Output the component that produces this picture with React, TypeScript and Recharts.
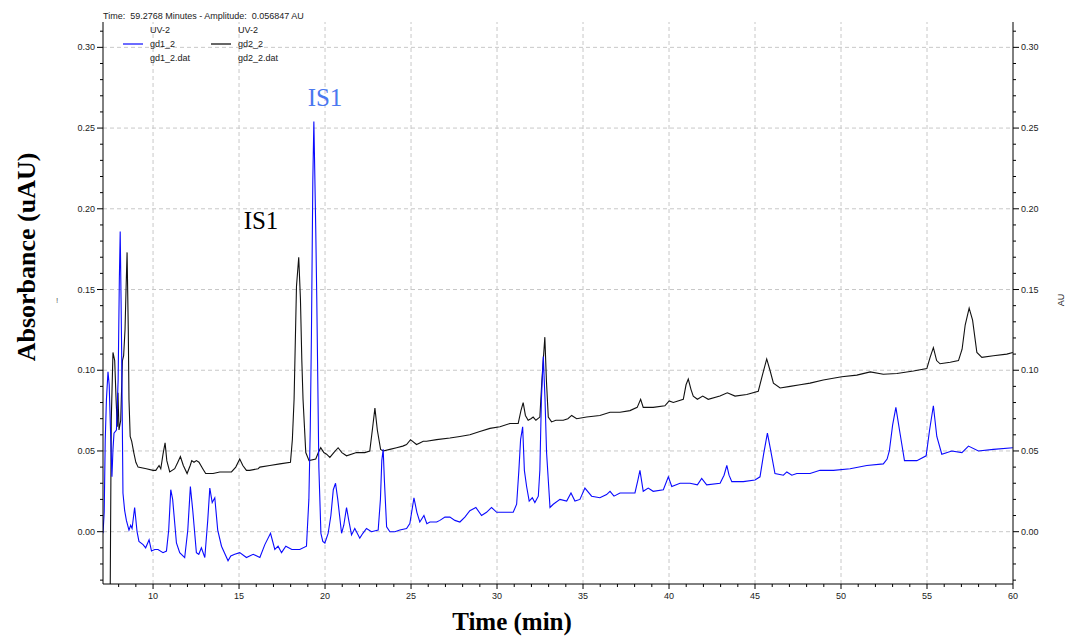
import React from 'react';
import { LineChart, Line, XAxis, YAxis, ReferenceLine } from 'recharts';

// gd1_2 (blue trace) — retention time (min) / absorbance (AU)
const gd1Time = [
  7.09, 7.16, 7.22, 7.29, 7.38, 7.45, 7.52, 7.61, 7.67, 7.73, 7.87, 7.97, 8.04, 8.09, 8.14, 8.18, 8.22, 8.25,
  8.35, 8.45, 8.6, 8.7, 8.78, 8.93, 9.07, 9.18, 9.42, 9.57, 9.77, 9.91, 10.1, 10.29, 10.58, 10.78, 10.91,
  11.03, 11.14, 11.36, 11.55, 11.84, 12.02, 12.17, 12.31, 12.52, 12.66, 12.81, 13.01, 13.18, 13.3, 13.44,
  13.59, 13.76, 13.98, 14.36, 14.52, 14.75, 15.04, 15.43, 15.82, 16.21, 16.5, 16.83, 17.08, 17.27, 17.47,
  17.72, 18.07, 18.53, 18.92, 19.06, 19.14, 19.21, 19.29, 19.35, 19.4, 19.46, 19.52, 19.64, 19.76, 19.87,
  19.99, 20.18, 20.34, 20.48, 20.61, 20.74, 20.96, 21.09, 21.25, 21.38, 21.54, 21.73, 22.02, 22.2, 22.41,
  22.7, 23.09, 23.22, 23.3, 23.38, 23.45, 23.58, 23.77, 24.06, 24.35, 24.74, 24.93, 25.17, 25.34, 25.51,
  25.75, 25.92, 26.1, 26.49, 26.68, 26.97, 27.26, 27.55, 27.84, 28.13, 28.42, 28.77, 29.1, 29.39, 29.68,
  29.98, 30.56, 30.94, 31.14, 31.27, 31.37, 31.49, 31.59, 31.72, 31.87, 32.05, 32.2, 32.4, 32.49, 32.58,
  32.69, 32.79, 32.88, 33.08, 33.27, 33.66, 34.05, 34.3, 34.53, 34.82, 35.11, 35.5, 35.98, 36.37, 36.57,
  36.8, 37.15, 37.61, 38.02, 38.19, 38.31, 38.5, 38.79, 39.08, 39.67, 39.96, 40.16, 40.64, 41.22, 41.65,
  41.9, 42.19, 42.97, 43.2, 43.36, 43.49, 43.65, 44.32, 45.0, 45.29, 45.5, 45.72, 45.9, 46.16, 46.65,
  46.85, 47.14, 47.43, 48.2, 48.78, 49.56, 50.53, 51.5, 52.46, 52.68, 52.81, 53.0, 53.19, 53.4, 53.69,
  54.02, 54.41, 54.95, 55.15, 55.37, 55.57, 55.86, 56.44, 57.03, 57.41, 57.99, 58.86, 59.99,
];
const gd1Abs = [
  -0.001, 0.012, 0.057, 0.082, 0.099, 0.091, 0.065, 0.034, 0.051, 0.061, 0.063, 0.094, 0.156, 0.186, 0.144,
  0.106, 0.059, 0.024, 0.013, 0.007, 0.001, 0.004, 0.002, 0.015, 0.0, -0.006, -0.008, -0.01, -0.005,
  -0.012, -0.011, -0.011, -0.013, -0.012, 0.001, 0.026, 0.02, -0.007, -0.013, -0.016, 0.001, 0.028, 0.013,
  -0.013, -0.014, -0.01, -0.016, 0.007, 0.027, 0.018, 0.021, 0.001, -0.009, -0.018, -0.015, -0.014,
  -0.013, -0.016, -0.014, -0.016, -0.008, -0.001, -0.011, -0.009, -0.013, -0.009, -0.011, -0.011, -0.009,
  0.02, 0.063, 0.123, 0.218, 0.254, 0.224, 0.187, 0.144, 0.04, -0.001, -0.006, -0.007, -0.001, 0.01, 0.026,
  0.03, 0.02, -0.001, 0.004, 0.015, 0.007, -0.002, 0.002, -0.004, -0.001, 0.002, 0.0, 0.001, 0.02, 0.044,
  0.051, 0.032, 0.003, 0.0, 0.0, 0.001, 0.002, 0.005, 0.021, 0.012, 0.006, 0.01, 0.005, 0.006, 0.006, 0.007,
  0.009, 0.009, 0.007, 0.006, 0.009, 0.013, 0.015, 0.01, 0.012, 0.015, 0.012, 0.012, 0.012, 0.017, 0.038,
  0.057, 0.065, 0.038, 0.028, 0.019, 0.021, 0.018, 0.022, 0.038, 0.082, 0.1085, 0.082, 0.049, 0.015, 0.017,
  0.02, 0.019, 0.024, 0.019, 0.02, 0.027, 0.022, 0.021, 0.023, 0.025, 0.022, 0.024, 0.024, 0.024, 0.032,
  0.038, 0.025, 0.027, 0.025, 0.026, 0.034, 0.028, 0.03, 0.03, 0.029, 0.033, 0.029, 0.03, 0.035, 0.041,
  0.035, 0.031, 0.031, 0.032, 0.034, 0.048, 0.061, 0.051, 0.036, 0.035, 0.037, 0.035, 0.036, 0.036, 0.038,
  0.038, 0.039, 0.041, 0.042, 0.045, 0.05, 0.066, 0.077, 0.063, 0.044, 0.044, 0.044, 0.047, 0.063, 0.078,
  0.059, 0.048, 0.05, 0.049, 0.053, 0.05, 0.051, 0.052,
];

// gd2_2 (black trace)
const gd2Time = [
  7.09, 7.51, 7.53, 7.57, 7.67, 7.77, 7.85, 7.92, 7.96, 8.02, 8.12, 8.22, 8.29, 8.37, 8.43, 8.49, 8.56, 8.6,
  8.67, 8.76, 8.88, 9.0, 9.13, 9.61, 10.0, 10.16, 10.35, 10.45, 10.58, 10.7, 10.8, 10.97, 11.26, 11.44,
  11.59, 11.76, 11.98, 12.16, 12.25, 12.38, 12.52, 12.67, 12.89, 13.06, 13.49, 13.88, 14.17, 14.56, 14.81,
  15.04, 15.22, 15.43, 15.62, 16.11, 16.21, 16.79, 17.37, 17.99, 18.1, 18.2, 18.34, 18.47, 18.57, 18.65,
  18.72, 18.88, 19.07, 19.46, 19.61, 19.75, 19.93, 20.09, 20.28, 20.51, 20.76, 20.98, 21.25, 21.83, 22.31,
  22.6, 22.75, 22.9, 23.04, 23.23, 23.38, 23.77, 24.16, 24.52, 24.74, 24.97, 25.32, 25.51, 25.71, 25.9,
  26.49, 27.26, 27.84, 28.42, 29.0, 29.59, 30.17, 30.75, 31.23, 31.39, 31.52, 31.65, 31.81, 31.97, 32.1,
  32.26, 32.49, 32.61, 32.78, 32.87, 32.98, 33.17, 33.42, 33.85, 34.12, 34.34, 34.63, 35.21, 35.98, 36.57,
  37.15, 37.73, 38.15, 38.35, 38.5, 39.08, 39.76, 40.01, 40.25, 40.83, 40.99, 41.12, 41.28, 41.41, 41.65,
  41.96, 42.28, 42.96, 43.39, 43.84, 44.52, 45.19, 45.43, 45.68, 45.87, 46.07, 46.46, 47.04, 47.62, 48.2,
  48.97, 50.04, 50.92, 51.7, 52.46, 53.25, 54.21, 54.99, 55.18, 55.37, 55.56, 55.76, 56.35, 56.83, 57.04,
  57.22, 57.45, 57.65, 57.9, 58.19, 58.86, 59.64, 59.99,
];
const gd2Abs = [
  -0.036, -0.036, 0.001, 0.069, 0.111, 0.106, 0.082, 0.065, 0.086, 0.063, 0.069, 0.106, 0.109, 0.125, 0.15,
  0.173, 0.125, 0.082, 0.059, 0.056, 0.049, 0.043, 0.04, 0.039, 0.038, 0.038, 0.041, 0.039, 0.048, 0.055,
  0.044, 0.037, 0.039, 0.043, 0.0465, 0.041, 0.036, 0.041, 0.044, 0.043, 0.044, 0.043, 0.039, 0.036, 0.036,
  0.037, 0.037, 0.037, 0.04, 0.045, 0.041, 0.038, 0.038, 0.039, 0.04, 0.041, 0.042, 0.043, 0.057, 0.082,
  0.152, 0.17, 0.144, 0.106, 0.082, 0.049, 0.044, 0.045, 0.049, 0.052, 0.049, 0.048, 0.046, 0.049, 0.052,
  0.049, 0.047, 0.049, 0.049, 0.05, 0.063, 0.0765, 0.063, 0.051, 0.05, 0.051, 0.052, 0.053, 0.054, 0.057,
  0.054, 0.055, 0.056, 0.056, 0.057, 0.058, 0.059, 0.06, 0.062, 0.064, 0.065, 0.067, 0.067, 0.075, 0.08,
  0.072, 0.069, 0.07, 0.071, 0.069, 0.071, 0.094, 0.1205, 0.094, 0.071, 0.068, 0.069, 0.069, 0.07, 0.072,
  0.07, 0.071, 0.072, 0.074, 0.074, 0.075, 0.077, 0.082, 0.077, 0.077, 0.078, 0.081, 0.08, 0.082, 0.091,
  0.0945, 0.088, 0.084, 0.082, 0.084, 0.082, 0.084, 0.086, 0.084, 0.085, 0.087, 0.097, 0.107, 0.1, 0.092,
  0.089, 0.09, 0.091, 0.092, 0.094, 0.096, 0.097, 0.099, 0.0975, 0.098, 0.0995, 0.101, 0.108, 0.114, 0.106,
  0.104, 0.105, 0.106, 0.113, 0.128, 0.1385, 0.131, 0.111, 0.108, 0.109, 0.11, 0.111,
];

const timeTicks = [
  8, 9, 10, 11, 12, 13, 14, 15, 16, 17, 18, 19, 20, 21, 22, 23, 24, 25, 26, 27, 28, 29, 30, 31, 32, 33, 34,
  35, 36, 37, 38, 39, 40, 41, 42, 43, 44, 45, 46, 47, 48, 49, 50, 51, 52, 53, 54, 55, 56, 57, 58, 59, 60,
];
const absTicks = [
  -0.03, -0.02, -0.01, 0, 0.01, 0.02, 0.03, 0.04, 0.05, 0.06, 0.07, 0.08, 0.09, 0.1, 0.11, 0.12, 0.13, 0.14,
  0.15, 0.16, 0.17, 0.18, 0.19, 0.2, 0.21, 0.22, 0.23, 0.24, 0.25, 0.26, 0.27, 0.28, 0.29, 0.3, 0.31,
];
const gridTimes = [10, 15, 20, 25, 30, 35, 40, 45, 50, 55];
const gridAbs = [0, 0.05, 0.1, 0.15, 0.2, 0.25, 0.3];

const timeDomain = [7.09, 60];
const absDomain = [-0.0324, 0.3157];

const gd1 = gd1Time.map((t, i) => ({ t, v: gd1Abs[i] }));
const gd2 = gd2Time.map((t, i) => ({ t, v: gd2Abs[i] }));

const SANS = "'Liberation Sans', Arial, sans-serif";
const SERIF = "'Liberation Serif', 'Times New Roman', serif";
const BLUE = '#0a0aff';

function TimeTick(props: any) {
  const { x, y, payload } = props;
  const major = payload.value % 5 === 0;
  return (
    <g>
      <line x1={x} x2={x} y1={y} y2={y + (major ? 5 : 3)} stroke="#000" />
      {major && (
        <text x={x} y={y + 15} textAnchor="middle" fontSize={9} fontFamily={SANS} fill="#222">
          {payload.value}
        </text>
      )}
    </g>
  );
}

function AbsTick(props: any) {
  const { x, y, payload, side } = props;
  const v = payload.value;
  const major = Math.abs(v * 20 - Math.round(v * 20)) < 1e-6;
  const dir = side === 'left' ? -1 : 1;
  const len = major ? 6 : 3;
  return (
    <g>
      <line x1={x} x2={x + dir * len} y1={y} y2={y} stroke="#000" />
      {major && (
        <text
          x={x + dir * 8}
          y={y + 3}
          textAnchor={side === 'left' ? 'end' : 'start'}
          fontSize={9}
          fontFamily={SANS}
          fill="#222"
        >
          {v.toFixed(2)}
        </text>
      )}
    </g>
  );
}

export default function App() {
  return (
    <div style={{ position: 'absolute', left: 0, top: 0, width: 1069, height: 637, background: '#fff' }}>
      <LineChart width={1069} height={637} margin={{ top: 22, right: 0, bottom: 23, left: 0 }}>
        <XAxis
          xAxisId="t"
          type="number"
          dataKey="t"
          domain={timeDomain}
          allowDataOverflow
          ticks={timeTicks}
          interval={0}
          tickSize={0}
          tickMargin={0}
          tickLine={false}
          tick={(p: any) => <TimeTick {...p} />}
          height={30}
          stroke="#000"
        />
        <XAxis
          xAxisId="top"
          orientation="top"
          type="number"
          domain={timeDomain}
          allowDataOverflow
          height={0}
          tick={false}
          tickLine={false}
          stroke="#000"
        />
        <YAxis
          yAxisId="left"
          type="number"
          domain={absDomain}
          allowDataOverflow
          ticks={absTicks}
          interval={0}
          width={103}
          tickSize={0}
          tickMargin={0}
          tickLine={false}
          tick={(p: any) => <AbsTick {...p} side="left" />}
          stroke="#000"
        />
        <YAxis
          yAxisId="right"
          orientation="right"
          type="number"
          domain={absDomain}
          allowDataOverflow
          ticks={absTicks}
          interval={0}
          width={56}
          tickSize={0}
          tickMargin={0}
          tickLine={false}
          tick={(p: any) => <AbsTick {...p} side="right" />}
          stroke="#000"
        />
        {gridTimes.map((g) => (
          <ReferenceLine key={'gx' + g} xAxisId="t" yAxisId="left" x={g} stroke="#c8c8c8" strokeDasharray="4 3" />
        ))}
        {gridAbs.map((g) => (
          <ReferenceLine key={'gy' + g} xAxisId="t" yAxisId="left" y={g} stroke="#c8c8c8" strokeDasharray="4 3" />
        ))}
        <Line
          xAxisId="t"
          yAxisId="left"
          data={gd2}
          dataKey="v"
          type="linear"
          stroke="#111"
          strokeWidth={1.1}
          dot={false}
          isAnimationActive={false}
        />
        <Line
          xAxisId="t"
          yAxisId="left"
          data={gd1}
          dataKey="v"
          type="linear"
          stroke={BLUE}
          strokeWidth={1.1}
          dot={false}
          isAnimationActive={false}
        />
      </LineChart>
      <svg
        width={1069}
        height={637}
        style={{ position: 'absolute', left: 0, top: 0, pointerEvents: 'none' }}
      >
        <text x={103} y={18.5} fontSize={9} fontFamily={SANS} fill="#222" style={{ whiteSpace: 'pre' }}>
          {'Time:  59.2768 Minutes - Amplitude:  0.056847 AU'}
        </text>
        <line x1={123} x2={143} y1={44} y2={44} stroke={BLUE} strokeWidth={1.2} />
        <line x1={211} x2={231} y1={44} y2={44} stroke="#000" strokeWidth={1.2} />
        <g fontSize={9} fontFamily={SANS} fill="#222">
          <text x={150} y={33}>UV-2</text>
          <text x={150} y={46.5}>gd1_2</text>
          <text x={150} y={60.5}>gd1_2.dat</text>
          <text x={238} y={33}>UV-2</text>
          <text x={238} y={46.5}>gd2_2</text>
          <text x={238} y={60.5}>gd2_2.dat</text>
        </g>
        <text
          x={26}
          y={257}
          transform="rotate(-90 26 257)"
          textAnchor="middle"
          dominantBaseline="central"
          fontSize={26}
          fontWeight="bold"
          fontFamily={SERIF}
          fill="#000"
        >
          Absorbance (uAU)
        </text>
        <text
          x={512}
          y={621}
          textAnchor="middle"
          dominantBaseline="central"
          fontSize={25}
          fontWeight="bold"
          fontFamily={SERIF}
          fill="#000"
        >
          Time (min)
        </text>
        <text x={325} y={97} textAnchor="middle" dominantBaseline="central" fontSize={25} fontFamily={SERIF} fill="#4a78f0">
          IS1
        </text>
        <text x={261} y={220} textAnchor="middle" dominantBaseline="central" fontSize={25} fontFamily={SERIF} fill="#000">
          IS1
        </text>
        <text
          x={1061}
          y={300}
          transform="rotate(-90 1061 300)"
          textAnchor="middle"
          dominantBaseline="central"
          fontSize={9}
          fontFamily={SANS}
          fill="#222"
        >
          AU
        </text>
        <text x={57} y={303} textAnchor="middle" fontSize={8} fontFamily={SANS} fill="#555">
          !
        </text>
      </svg>
    </div>
  );
}
